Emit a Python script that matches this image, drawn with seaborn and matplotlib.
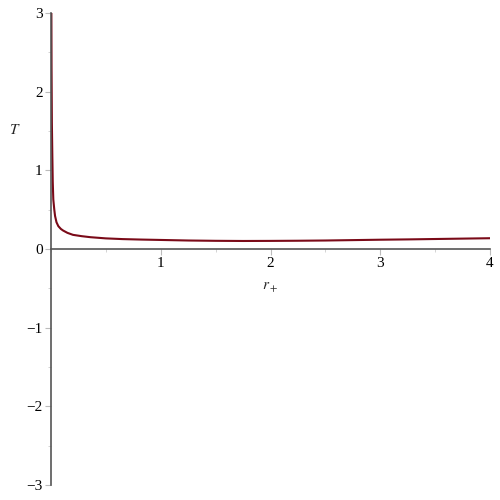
import numpy as np
import pandas as pd
import matplotlib
matplotlib.use('Agg')
import matplotlib.pyplot as plt
from matplotlib.ticker import MultipleLocator
import seaborn as sns

sns.set_style('white')
plt.rcParams['font.family'] = 'serif'
plt.rcParams['font.serif'] = ['Liberation Serif', 'DejaVu Serif']
plt.rcParams['mathtext.fontset'] = 'stix'

# T(r+)
r_plus = [0.003, 0.005, 0.008, 0.012, 0.016, 0.021, 0.03, 0.037, 0.05, 0.067,
          0.09, 0.11, 0.15, 0.2, 0.28, 0.36, 0.5, 0.65, 0.82, 1.0,
          1.25, 1.5, 1.75, 2.0, 2.25, 2.5, 2.75, 3.0, 3.25, 3.5, 3.75, 4.0]
T_vals = [3.2, 2.3, 1.6, 1.2, 0.85, 0.63, 0.5, 0.42, 0.34, 0.29,
          0.255, 0.235, 0.205, 0.18, 0.163, 0.15, 0.135, 0.126, 0.12, 0.115,
          0.108, 0.104, 0.102, 0.103, 0.105, 0.108, 0.113, 0.118, 0.122, 0.127, 0.132, 0.137]

x_ticks = [1, 2, 3, 4]
y_ticks = [-3, -2, -1, 0, 1, 2, 3]

df = pd.DataFrame({'r': r_plus, 'T': T_vals})

fig = plt.figure(figsize=(5, 5), dpi=100)
ax = fig.add_axes([0.102, 0.03, 0.878, 0.944])

sns.lineplot(data=df, x='r', y='T', sort=False, estimator=None,
             color='#7a0a18', linewidth=1.5, ax=ax)

ax.set_xlim(0, 4)
ax.set_ylim(-3, 3)

ax.spines['left'].set_position('zero')
ax.spines['bottom'].set_position('zero')
ax.spines['top'].set_visible(False)
ax.spines['right'].set_visible(False)
for s in ['left', 'bottom']:
    ax.spines[s].set_color('#555555')
    ax.spines[s].set_linewidth(1.2)

ax.set_xticks(x_ticks)
ax.set_yticks(y_ticks)
ax.set_xticklabels([str(v) for v in x_ticks], fontfamily='Liberation Serif')
ax.set_yticklabels([str(v).replace('-', '\u2212') for v in y_ticks], fontfamily='Liberation Serif')
ax.xaxis.set_minor_locator(MultipleLocator(0.5))
ax.yaxis.set_minor_locator(MultipleLocator(0.5))
ax.tick_params(which='major', direction='out', length=4, width=0.8,
               color='#bbbbbb', labelsize=11, labelcolor='black', pad=2,
               bottom=True, left=True)
ax.tick_params(which='minor', direction='out', length=2, width=0.6,
               color='#cccccc', bottom=True, left=True)

ax.set_xlabel('')
ax.set_ylabel('')
fig.text(0.03, 0.74, '$T$', fontsize=11, ha='center', va='center')
fig.text(0.54, 0.424, '$r_+$', fontsize=11, ha='center', va='center')

fig.savefig('out.png', dpi=100)
